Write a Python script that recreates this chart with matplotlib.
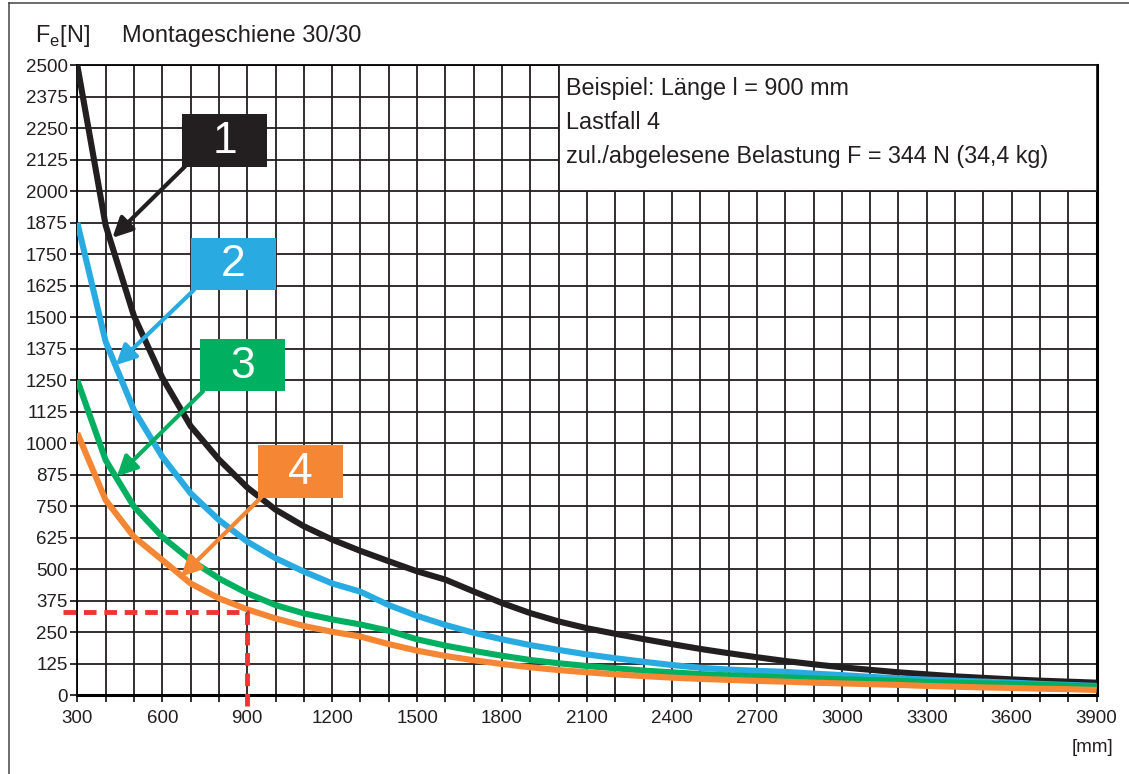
import matplotlib
matplotlib.use("Agg")
import matplotlib.pyplot as plt
from matplotlib.patches import Rectangle
from matplotlib.lines import Line2D
from matplotlib.ticker import MultipleLocator

plt.rcParams['font.family'] = ['Liberation Sans Narrow', 'Liberation Sans', 'DejaVu Sans']
plt.rcParams['mathtext.fontset'] = 'custom'
plt.rcParams['mathtext.rm'] = 'Liberation Sans'

# Laenge [mm]
laenge = [300, 400, 500, 600, 700, 800, 900, 1000, 1100, 1200, 1300, 1400, 1500,
          1600, 1700, 1800, 1900, 2000, 2100, 2200, 2300, 2400, 2500, 2600, 2700,
          2800, 2900, 3000, 3100, 3200, 3300, 3400, 3500, 3600, 3700, 3800, 3900]

# Lastfall 1..4, Fe [N]
lastfall_1 = [2500, 1865, 1505, 1260, 1068, 935, 824, 736, 670, 617, 572, 531, 491,
              458, 411, 365, 325, 292, 265, 243, 222, 202, 183, 166, 150,
              135, 122, 110, 100, 90, 82, 74, 68, 62, 57, 53, 49]
lastfall_2 = [1875, 1403, 1131, 946, 801, 695, 609, 543, 490, 443, 410, 357, 314,
              278, 247, 221, 198, 179, 161, 146, 132, 119, 108, 101, 96,
              92, 85, 79, 72, 66, 61, 57, 53, 49, 44, 40, 36]
lastfall_3 = [1250, 933, 748, 628, 536, 463, 404, 357, 324, 300, 280, 255, 221,
              196, 175, 156, 139, 126, 115, 106, 97, 90, 83, 78, 74,
              70, 66, 62, 59, 56, 52, 49, 46, 44, 40, 37, 33]
lastfall_4 = [1040, 774, 628, 536, 443, 384, 340, 304, 274, 251, 232, 202, 176,
              155, 138, 123, 110, 99, 90, 82, 75, 69, 64, 60, 56,
              53, 49, 46, 43, 40, 36, 33, 30, 28, 25, 23, 20]

kurven = [lastfall_1, lastfall_2, lastfall_3, lastfall_4]
nummern = ["1", "2", "3", "4"]
farben = ["#231F20", "#29ABE2", "#00B060", "#F58634"]

beispiel_x = [250, 900, 900]
beispiel_y = [330, 330, -45]

# Kennzeichnung (Kasten links unten, Pfeilspitze)
kasten = [(670, 2098), (702, 1608), (734, 1206), (939, 784)]
pfeil_spitze = [(424, 1815), (436, 1310), (440, 868), (666, 470)]

fig = plt.figure(figsize=(11.29, 7.74), dpi=100)
ax = fig.add_axes([77.3 / 1129, 1 - 695 / 774, 1019.4 / 1129, 629.7 / 774])

ax.set_xlim(300, 3900)
ax.set_ylim(0, 2500)
ax.xaxis.set_major_locator(MultipleLocator(300))
ax.xaxis.set_minor_locator(MultipleLocator(100))
ax.yaxis.set_major_locator(MultipleLocator(125))
ax.grid(which='both', color='#231F20', lw=1.3, zorder=1)
ax.set_axisbelow(True)
ax.tick_params(which='both', direction='out', length=5, width=1.3, color='#231F20',
               labelsize=13.5, labelcolor='#231F20')
ax.tick_params(axis='x', pad=6)
ax.tick_params(axis='y', pad=2)
for s in ['top', 'left']:
    ax.spines[s].set_linewidth(1.3)
for s in ['bottom', 'right']:
    ax.spines[s].set_linewidth(2.2)

for werte, farbe in zip(kurven, farben):
    ax.plot(laenge, werte, color=farbe, lw=4.4, zorder=3, solid_capstyle='butt')

ax.plot(beispiel_x, beispiel_y, color='#EE3535', lw=3.5, ls=(0, (2.6, 1.6)),
        clip_on=False, zorder=4)

# Beispiel-Kasten
ax.add_patch(Rectangle((2000, 2000), 1900, 500, facecolor='white',
                       edgecolor='#231F20', lw=1.3, zorder=5))
zeilen = ["Beispiel: Länge l = 900 mm", "Lastfall 4",
          "zul./abgelesene Belastung F = 344 N (34,4 kg)"]
for i, z in enumerate(zeilen):
    ax.text(2025, 2406 - i * 135, z, fontsize=16.8, va='center', ha='left',
            color='#231F20', zorder=6)

for nr, farbe, (kx, ky), (sx, sy) in zip(nummern, farben, kasten, pfeil_spitze):
    ax.add_patch(Rectangle((kx, ky), 300, 207, facecolor=farbe, edgecolor='none',
                           zorder=7))
    ax.text(kx + 150, ky + 100, nr, color='white', fontsize=32, ha='center',
            va='center', zorder=8)
    ax.annotate("", xy=(sx, sy), xytext=(kx + 10, ky),
                arrowprops=dict(arrowstyle='-|>', color=farbe, lw=3,
                                mutation_scale=30, shrinkA=0, shrinkB=0),
                zorder=7)

fig.text(35 / 1129, 1 - 36 / 774, r'F$_{\mathrm{e}}$[N]', fontsize=17, va='center',
         ha='left', color='#231F20')
fig.text(122 / 1129, 1 - 36 / 774, "Montageschiene 30/30", fontsize=17, va='center',
         ha='left', color='#231F20')
fig.text(1113 / 1129, 1 - 748 / 774, "[mm]", fontsize=13.5, va='center', ha='right',
         color='#231F20')

# Rahmen
fig.add_artist(Line2D([9 / 1129, 9 / 1129], [0, 1 - 3.3 / 774], color='#444444',
                      lw=1.1, transform=fig.transFigure))
fig.add_artist(Line2D([9 / 1129, 1], [1 - 3.3 / 774, 1 - 3.3 / 774], color='#444444',
                      lw=1.1, transform=fig.transFigure))

fig.savefig("out.png", dpi=100)
